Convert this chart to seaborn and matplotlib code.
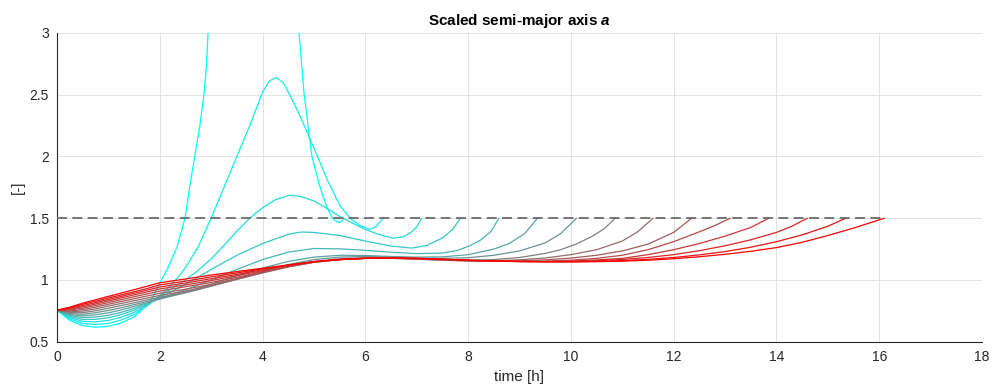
import matplotlib
matplotlib.use("Agg")
import matplotlib.pyplot as plt
from matplotlib.ticker import FormatStrFormatter
import numpy as np
import pandas as pd
import seaborn as sns

# ---------------- data ----------------
t00 = [0, 0.25, 0.5, 0.75, 1.0, 1.25, 1.5, 1.75, 1.875, 2.0, 2.15, 2.33, 2.49, 2.6, 2.68, 2.78, 2.86, 2.91, 2.94,
       3.02, 3.3, 3.8, 4.3, 4.6, 4.71, 4.81, 4.96, 5.12, 5.25, 5.36, 5.45, 5.5, 5.55, 5.58]
a00 = [0.755, 0.672, 0.630, 0.617, 0.625, 0.652, 0.70, 0.795, 0.87, 0.975, 1.09, 1.26, 1.5, 1.8, 2.0, 2.25, 2.5, 2.75, 3.0,
       3.5, 4.5, 5.0, 4.6, 3.6, 3.0, 2.5, 2.0, 1.75, 1.59, 1.5, 1.472, 1.466, 1.478, 1.5]

t01 = [0, 0.25, 0.5, 0.75, 1.0, 1.25, 1.5, 1.75, 2.0, 2.2, 2.36, 2.5, 2.75, 3.0, 3.2, 3.43, 3.6, 3.75, 4.0,
       4.13, 4.26, 4.4, 4.53, 4.75, 4.92, 5.1, 5.25, 5.5, 5.7, 5.9, 6.09, 6.2, 6.35]
a01 = [0.755, 0.684, 0.648, 0.640, 0.648, 0.676, 0.72, 0.79, 0.875, 0.95, 1.025, 1.10, 1.27, 1.5, 1.70, 1.93, 2.10, 2.25, 2.52,
       2.61, 2.64, 2.60, 2.50, 2.31, 2.146, 1.97, 1.82, 1.606, 1.5, 1.44, 1.41, 1.43, 1.5]

t02 = [0, 0.25, 0.5, 0.75, 1.0, 1.25, 1.5, 1.75, 2.0, 2.25, 2.5, 2.75, 3.0, 3.25, 3.5, 3.75, 4.0, 4.25,
       4.53, 4.75, 5.0, 5.25, 5.5, 5.75, 6.0, 6.25, 6.54, 6.75, 6.9, 7.0, 7.1]
a02 = [0.755, 0.694, 0.665, 0.661, 0.672, 0.698, 0.738, 0.79, 0.87, 0.935, 1.0, 1.08, 1.17, 1.28, 1.395, 1.5, 1.585, 1.65,
       1.687, 1.675, 1.64, 1.58, 1.515, 1.46, 1.41, 1.37, 1.338, 1.35, 1.39, 1.43, 1.5]

t03 = [0, 0.25, 0.5, 0.75, 1.0, 1.25, 1.5, 1.75, 2.0, 2.25, 2.5, 2.75, 3.0, 3.5, 4.0, 4.5, 4.75, 5.0,
       5.5, 6.0, 6.5, 6.9, 7.2, 7.5, 7.7, 7.85]
a03 = [0.755, 0.703, 0.680, 0.681, 0.694, 0.72, 0.755, 0.80, 0.86, 0.91, 0.965, 1.025, 1.085, 1.2, 1.295, 1.37, 1.388, 1.385,
       1.36, 1.315, 1.275, 1.258, 1.28, 1.34, 1.41, 1.5]

t04 = [0, 0.25, 0.5, 0.75, 1, 1.25, 1.5, 1.75, 2, 2.5, 3, 3.5, 4, 4.5, 5, 5.5, 6, 6.5, 7, 7.5, 7.8, 8.05, 8.25, 8.45, 8.6]
a04 = [0.755, 0.712, 0.695, 0.70, 0.714, 0.738, 0.77, 0.807, 0.85, 0.92, 1.0, 1.085, 1.165, 1.225,
       1.255, 1.252, 1.24, 1.225, 1.213, 1.218, 1.24, 1.28, 1.325, 1.395, 1.5]

t05 = [0, 0.25, 0.5, 0.75, 1, 1.25, 1.5, 1.75, 2, 2.5, 3, 3.5, 4, 4.5, 5, 5.5, 6, 6.5, 7, 7.5, 8, 8.5, 8.8, 9.1, 9.35]
a05 = [0.755, 0.72, 0.709, 0.718, 0.734, 0.757, 0.786, 0.815, 0.845, 0.90, 0.965, 1.035, 1.097, 1.15,
       1.185, 1.20, 1.198, 1.19, 1.185, 1.187, 1.205, 1.25, 1.295, 1.375, 1.5]

t06 = [0, 0.25, 0.5, 0.75, 1, 1.25, 1.5, 1.75, 2, 2.5, 3, 3.5, 4, 4.5, 5, 5.5, 6, 6.5, 7, 7.5, 8, 8.5, 9, 9.5, 9.8, 10.11]
a06 = [0.755, 0.728, 0.722, 0.735, 0.753, 0.775, 0.80, 0.825, 0.85, 0.895, 0.95, 1.01, 1.07, 1.125,
       1.165, 1.185, 1.19, 1.185, 1.178, 1.175, 1.18, 1.2, 1.235, 1.30, 1.375, 1.5]

t07 = [0, 0.25, 0.5, 0.75, 1, 1.25, 1.5, 1.75, 2, 2.5, 3, 3.5, 4, 4.5, 5, 5.5, 6, 6.5, 7, 7.5, 8, 8.5, 9, 9.5,
       9.8, 10.1, 10.4, 10.65, 10.86]
a07 = [0.755, 0.735, 0.735, 0.751, 0.771, 0.793, 0.815, 0.838, 0.86, 0.90, 0.95, 1.005, 1.06, 1.11,
       1.15, 1.172, 1.18, 1.178, 1.17, 1.163, 1.16, 1.165, 1.182, 1.215, 1.245, 1.29, 1.35, 1.415, 1.5]

t08 = [0, 0.25, 0.5, 0.75, 1, 1.25, 1.5, 1.75, 2, 2.5, 3, 3.5, 4, 4.5, 5, 5.5, 6, 6.5, 7, 7.5, 8, 8.5, 9, 9.5,
       10, 10.5, 11, 11.3, 11.6]
a08 = [0.755, 0.742, 0.748, 0.766, 0.788, 0.810, 0.832, 0.853, 0.875, 0.91, 0.955, 1.005, 1.057, 1.105,
       1.143, 1.165, 1.175, 1.175, 1.168, 1.16, 1.153, 1.155, 1.163, 1.178, 1.205, 1.245, 1.315, 1.39, 1.5]

t09 = [0, 0.25, 0.5, 0.75, 1, 1.25, 1.5, 1.75, 2, 2.5, 3, 3.5, 4, 4.5, 5, 5.5, 6, 6.5, 7, 7.5, 8, 8.5, 9, 9.5,
       10, 10.5, 11, 11.5, 12, 12.35]
a09 = [0.755, 0.749, 0.760, 0.780, 0.803, 0.826, 0.848, 0.870, 0.892, 0.925, 0.965, 1.012, 1.06, 1.107,
       1.143, 1.165, 1.175, 1.176, 1.17, 1.162, 1.155, 1.152, 1.155, 1.163, 1.177, 1.2, 1.235, 1.29, 1.385, 1.5]

t10 = [0, 0.25, 0.5, 0.75, 1, 1.25, 1.5, 1.75, 2, 2.5, 3, 3.5, 4, 4.5, 5, 5.5, 6, 6.5, 7, 7.5, 8, 8.5, 9, 9.5,
       10, 10.5, 11, 11.5, 12, 12.5, 12.8, 13.1]
a10 = [0.755, 0.756, 0.772, 0.793, 0.817, 0.841, 0.864, 0.887, 0.91, 0.945, 0.98, 1.022, 1.066, 1.11,
       1.145, 1.165, 1.175, 1.177, 1.172, 1.165, 1.157, 1.152, 1.15, 1.153, 1.16, 1.175, 1.2, 1.245, 1.31, 1.39, 1.44, 1.5]

t11 = [0, 0.25, 0.5, 0.75, 1, 1.25, 1.5, 1.75, 2, 2.5, 3, 3.5, 4, 4.5, 5, 5.5, 6, 6.5, 7, 7.5, 8, 8.5, 9, 9.5,
       10, 10.5, 11, 11.5, 12, 12.5, 13, 13.5, 13.85]
a11 = [0.755, 0.763, 0.783, 0.805, 0.830, 0.855, 0.879, 0.903, 0.927, 0.96, 0.995, 1.035, 1.075, 1.115,
       1.147, 1.166, 1.176, 1.178, 1.173, 1.166, 1.158, 1.152, 1.149, 1.149,
       1.153, 1.162, 1.175, 1.205, 1.245, 1.295, 1.355, 1.425, 1.5]

t12 = [0, 0.25, 0.5, 0.75, 1, 1.25, 1.5, 1.75, 2, 2.5, 3, 3.5, 4, 4.5, 5, 5.5, 6, 6.5, 7, 7.5, 8, 8.5, 9, 9.5,
       10, 10.5, 11, 11.5, 12, 12.5, 13, 13.5, 14, 14.3, 14.6]
a12 = [0.755, 0.769, 0.793, 0.816, 0.842, 0.867, 0.892, 0.917, 0.943, 0.975, 1.01, 1.045, 1.082, 1.118,
       1.148, 1.166, 1.176, 1.178, 1.174, 1.167, 1.159, 1.153, 1.149, 1.148,
       1.15, 1.156, 1.166, 1.182, 1.205, 1.237, 1.277, 1.325, 1.385, 1.435, 1.5]

t13 = [0, 0.25, 0.5, 0.75, 1, 1.25, 1.5, 1.75, 2, 2.5, 3, 3.5, 4, 4.5, 5, 5.5, 6, 6.5, 7, 7.5, 8, 8.5, 9, 9.5,
       10, 10.5, 11, 11.5, 12, 12.5, 13, 13.5, 14, 14.5, 15, 15.35]
a13 = [0.755, 0.775, 0.803, 0.828, 0.854, 0.879, 0.904, 0.930, 0.96, 0.99, 1.025, 1.057, 1.09, 1.12,
       1.148, 1.165, 1.175, 1.178, 1.175, 1.168, 1.16, 1.154, 1.15, 1.148,
       1.148, 1.151, 1.157, 1.167, 1.182, 1.203, 1.23, 1.265, 1.31, 1.365, 1.435, 1.5]

t14 = [0, 0.25, 0.5, 0.75, 1, 1.25, 1.5, 1.75, 2, 2.5, 3, 3.5, 4, 4.5, 5, 5.5, 6, 6.5, 7, 7.5, 8, 8.5, 9, 9.5,
       10, 10.5, 11, 11.5, 12, 12.5, 13, 13.5, 14, 14.5, 15, 15.5, 15.8, 16.1]
a14 = [0.755, 0.780, 0.812, 0.84, 0.867, 0.894, 0.921, 0.949, 0.977, 1.008, 1.04, 1.068, 1.095, 1.122,
       1.148, 1.165, 1.175, 1.178, 1.175, 1.168, 1.16, 1.154, 1.15, 1.147,
       1.146, 1.148, 1.152, 1.16, 1.172, 1.188, 1.208, 1.232, 1.262, 1.305, 1.36, 1.42, 1.46, 1.5]

target_a = 1.5
x_ticks = [0, 2, 4, 6, 8, 10, 12, 14, 16, 18]
y_ticks = [0.5, 1, 1.5, 2, 2.5, 3]

times = [t00, t01, t02, t03, t04, t05, t06, t07, t08, t09, t10, t11, t12, t13, t14]
values = [a00, a01, a02, a03, a04, a05, a06, a07, a08, a09, a10, a11, a12, a13, a14]

# ---------------- build table ----------------
n = len(times)
names = [f"c{k:02d}" for k in range(n)]
frames = []
for k in range(n):
    frames.append(pd.DataFrame({"t": times[k], "a": values[k], "curve": names[k]}))
df = pd.concat(frames, ignore_index=True)
palette = {names[k]: (k / (n - 1), 1 - k / (n - 1), 1 - k / (n - 1)) for k in range(n)}

# ---------------- plot ----------------
sns.set_style("white")
plt.rcParams["font.family"] = ["Liberation Sans", "DejaVu Sans"]
plt.rcParams["mathtext.fontset"] = "custom"
plt.rcParams["mathtext.it"] = "Liberation Sans:italic:bold"
plt.rcParams["mathtext.rm"] = "Liberation Sans"

fig = plt.figure(figsize=(9.93, 3.88), dpi=100)
ax = fig.add_axes([57 / 993, 1 - 341.7 / 388, 925 / 993, 308.7 / 388])

sns.lineplot(data=df, x="t", y="a", hue="curve", hue_order=names, palette=palette,
             sort=False, estimator=None, legend=False, lw=0.9, ax=ax)

end_t = max(t[-1] for t in times)
ax.plot([0, end_t], [target_a, target_a], linestyle="--", color=(0.42, 0.42, 0.42),
        lw=1.3, dashes=(5.5, 3), zorder=5)

ax.set_xlim(0, 18)
ax.set_ylim(0.5, 3)
ax.set_xticks(x_ticks)
ax.set_yticks(y_ticks)
ax.yaxis.set_major_formatter(FormatStrFormatter("%g"))
ax.grid(True, color="#dedede", lw=0.6)
ax.set_axisbelow(True)
for s in ["top", "right"]:
    ax.spines[s].set_visible(False)
for s in ["left", "bottom"]:
    ax.spines[s].set_color("#262626")
    ax.spines[s].set_linewidth(0.8)
ax.tick_params(direction="in", length=6, width=0.7, color="#262626",
               labelcolor="#262626", labelsize=10, pad=6)

ax.set_title("Scaled semi-major axis $a$", fontsize=11, fontweight="bold", pad=6, color="#000000")
ax.set_xlabel("time [h]", fontsize=11, color="#262626", labelpad=4)
ax.set_ylabel("[-]", fontsize=11, color="#262626", labelpad=3)

fig.savefig("out.png", dpi=100)
